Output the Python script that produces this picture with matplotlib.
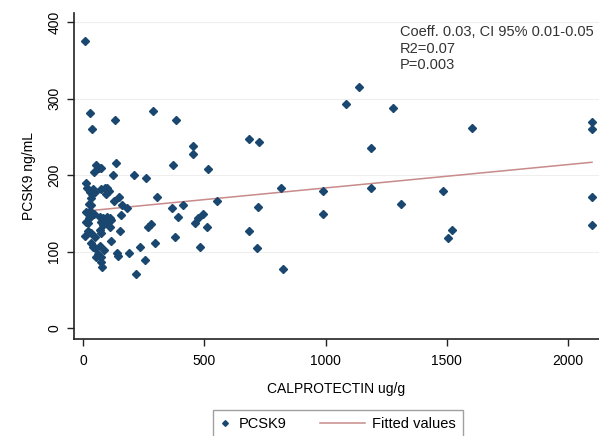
import numpy as np
import matplotlib
matplotlib.use('Agg')
from matplotlib import pyplot as plt
from matplotlib.legend_handler import HandlerLine2D

plt.rcParams['font.family'] = ['Liberation Sans', 'DejaVu Sans']

# calprotectin (ug/g) and PCSK9 (ng/mL)
calpro = [
    8, 29, 37, 132, 289, 383, 453, 453, 136, 371, 515, 124, 210, 260,
    305, 148, 128, 161, 181, 367, 412, 157, 392, 495, 474, 462, 511,
    268, 280, 153, 379, 297, 235, 482, 140, 144, 190, 256, 218,
    1138, 1084, 684, 725, 1187, 816, 989, 1187, 552, 721, 989, 684,
    717, 824, 1279, 1603, 2098, 2098, 1484, 1311, 2098, 1521, 1505, 2098,
    54, 66, 74, 45, 12, 16, 41, 49, 37, 29, 74, 91, 99, 107, 95, 33,
    25, 33, 12, 29, 45, 33, 25, 82, 99, 115, 29, 70, 111, 12, 21, 74,
    82, 95, 111, 21, 33, 8, 49, 70, 74, 115, 33, 41, 49, 70, 87, 62,
    54, 74, 74, 78,
]
pcsk9 = [
    376, 281, 261, 272, 284, 272, 238, 228, 216, 213, 208, 201, 201, 197,
    171, 171, 167, 161, 157, 157, 161, 148, 145, 150, 144, 137, 132,
    133, 136, 127, 119, 111, 106, 106, 98, 94, 98, 89, 71,
    316, 293, 247, 243, 235, 184, 180, 183, 166, 158, 149, 127,
    105, 77, 288, 262, 270, 260, 179, 163, 171, 128, 118, 135,
    213, 210, 209, 204, 190, 183, 182, 178, 176, 178, 182, 184, 183, 179, 176, 170,
    163, 161, 152, 153, 150, 148, 144, 144, 145, 141, 146, 145, 144, 139, 137, 139,
    135, 137, 132, 127, 124, 120, 119, 128, 124, 114, 112, 106, 105, 107, 102, 97,
    93, 93, 86, 80,
]

# fitted line (coeff 0.03)
fit_x = [4, 2098]
fit_y = [153, 217]

xticks = [0, 500, 1000, 1500, 2000]
yticks = [0, 100, 200, 300, 400]


class LongLine(HandlerLine2D):
    # stata-like legend: short key for the marker, long key for the line
    def get_xdata(self, legend, xdescent, ydescent, width, height, fontsize):
        x = np.array([-xdescent - 2.9 * width, -xdescent + width])
        return x, x


fig = plt.figure(figsize=(5.99, 4.36), dpi=100)
ax = fig.add_axes([0.1235, 0.2225, 0.8765, 0.7475])

for yt in yticks[1:]:
    ax.axhline(yt, color='#eeeeee', lw=0.8, zorder=0)

ax.plot(calpro, pcsk9, 'D', color='#1a476f', markersize=3.6, ls='none',
        label='PCSK9', zorder=3)
fit, = ax.plot(fit_x, fit_y, color='#c88a8a', lw=1.1, label='Fitted values',
               zorder=2)

ax.set_xlim(-37, 2127)
ax.set_ylim(-14, 412)
ax.set_xticks(xticks)
ax.set_yticks(yticks)
ax.set_yticklabels([str(v) for v in yticks], rotation=90, va='center')
ax.tick_params(axis='both', labelsize=10, length=5, width=1, color='#222222')
ax.tick_params(axis='y', pad=4)
ax.tick_params(axis='x', pad=6)

for s in ['top', 'right']:
    ax.spines[s].set_visible(False)
for s in ['left', 'bottom']:
    ax.spines[s].set_linewidth(1.2)
    ax.spines[s].set_color('#222222')

ax.set_xlabel('CALPROTECTIN ug/g', fontsize=10, labelpad=10)
ax.set_ylabel('PCSK9 ng/mL', fontsize=10, labelpad=8)

ax.text(0.621, 0.962, 'Coeff. 0.03, CI 95% 0.01-0.05\nR2=0.07\nP=0.003',
        transform=ax.transAxes, fontsize=10.5, va='top', ha='left',
        color='#333333', linespacing=1.2)

fig.legend(loc='upper center', bbox_to_anchor=(0.564, 1 - 403 / 436),
           ncol=2, frameon=True, fancybox=False, edgecolor='#888888',
           fontsize=10.5, handlelength=0.8, handletextpad=0.5,
           columnspacing=4.6, markerscale=0.8, borderpad=0.45,
           handler_map={fit: LongLine()})

plt.savefig('out.png', dpi=100)
plt.close()
